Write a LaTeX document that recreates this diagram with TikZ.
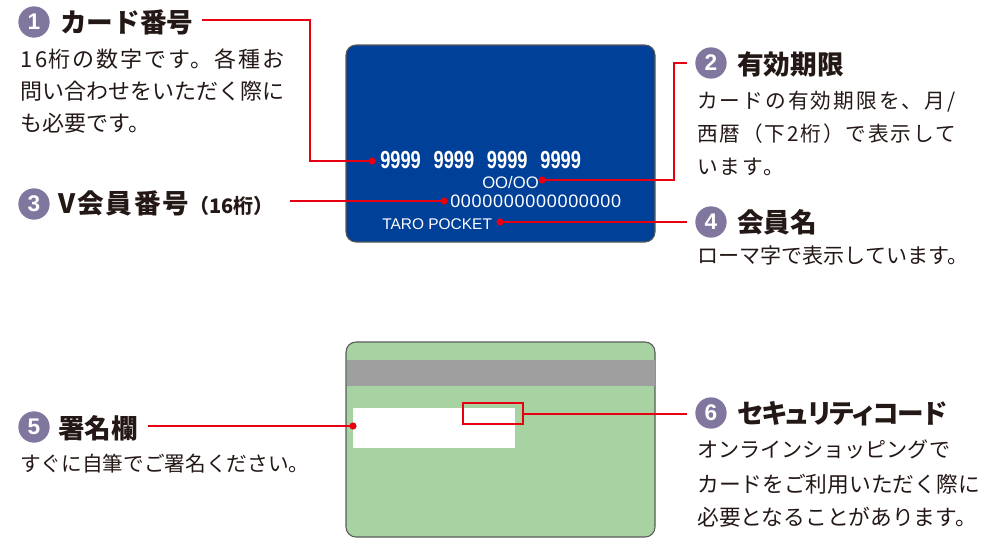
\documentclass[tikz,border=0pt]{standalone}
\usepackage{fontspec}
\newfontfamily\jp{Noto Sans CJK JP}
\newfontfamily\cardfont{Liberation Sans}
\definecolor{cardblue}{RGB}{0,64,152}
\definecolor{cardgreen}{RGB}{166,211,161}
\definecolor{stripe}{RGB}{158,159,158}
\definecolor{myred}{RGB}{230,0,18}
\definecolor{circ}{RGB}{128,118,158}
\definecolor{ink}{RGB}{35,24,21}
\definecolor{edge}{RGB}{90,90,90}
\tikzset{
  numc/.style={circle, fill=circ, minimum size=23.5pt, inner sep=0pt, text=white, font=\cardfont\bfseries\fontsize{17}{17}\selectfont},
  hd/.style={anchor=base west, inner sep=0pt, text=ink, font=\jp\bfseries\fontsize{20}{24}\selectfont},
  bodyL/.style={anchor=base west, inner sep=0pt, text=ink, font=\jp\fontsize{16.5}{20}\selectfont},
  bodyR/.style={anchor=base west, inner sep=0pt, text=ink, font=\jp\fontsize{15.8}{20}\selectfont},
  cardtxt/.style={anchor=base west, inner sep=0pt, text=white},
  redline/.style={draw=myred, line width=1.5pt},
  dot/.style={fill=myred},
  card/.style={draw=edge, line width=0.8pt, rounded corners=7.5pt}
}
\begin{document}
\begin{tikzpicture}[x=0.75pt,y=-0.75pt]
\useasboundingbox (0,0) rectangle (1007,551);

% ---- front card ----
\draw[card, fill=cardblue] (346,45) rectangle (655,242);
\node[cardtxt, font=\cardfont\bfseries\fontsize{18.5}{20}\selectfont] (num) at (380,168)
  {\scalebox{0.74}[1]{9999\hspace{0.7em}9999\hspace{0.7em}9999\hspace{0.7em}9999}};
\node[cardtxt, font=\cardfont\fontsize{12.5}{15}\selectfont] (exp) at (482,188) {OO/OO};
\node[cardtxt, font=\cardfont\fontsize{13.5}{15}\selectfont\addfontfeature{LetterSpace=4}] (vno) at (450,207) {0000000000000000};
\node[cardtxt, font=\cardfont\fontsize{11.6}{14}\selectfont] (name) at (382,229) {TARO POCKET};

% ---- back card ----
\draw[card, fill=cardgreen] (346,342) rectangle (655,537);
\fill[stripe] (346.5,360) rectangle (654.5,386);
\fill[white] (353,408) rectangle (515,448);
\node[draw=myred, line width=1.5pt, minimum width=45pt, minimum height=15.75pt, inner sep=0pt, anchor=north west] (sc) at (462,402) {};

% ---- dots and coordinates ----
\coordinate (d1) at (372,161);
\coordinate (d2) at (542,180);
\coordinate (d3) at (444,201);
\coordinate (d4) at (500,222);
\coordinate (d5) at (353,426);
\coordinate (l1c) at (310,20);
\coordinate (l1a) at (202,20);
\coordinate (l2c) at (674,63);
\coordinate (l2a) at (687,63);
\coordinate (l3a) at (290,201);
\coordinate (l4a) at (687,222);
\coordinate (l5a) at (148,426);
\coordinate (l6a) at (687,414);

\draw[redline] (d1) -| (l1c) -- (l1a);
\draw[redline] (d2) -| (l2c) -- (l2a);
\draw[redline] (d3) -- (l3a);
\draw[redline] (d4) -- (l4a);
\draw[redline] (d5) -- (l5a);
\draw[redline] (sc.east) -- (l6a |- sc.east);
\foreach \d in {d1,d2,d3,d4,d5} \fill[dot] (\d) circle[radius=2.7pt];

% ---- 1 ----
\node[numc] (c1) at (34,22) {1};
\node[hd] (h1) at (60,32) {カード番号};
\node[bodyL, font=\jp\fontsize{16.5}{20}\selectfont\addfontfeature{LetterSpace=9}] (b1a) at (20,67) {1\kern2pt 6\kern1pt 桁の数字です。各種お};
\node[bodyL] (b1b) at (20,99) {問い合わせをいただく際に};
\node[bodyL] (b1c) at (20,131) {も必要です。};

% ---- 3 ----
\node[numc] (c3) at (34,204) {3};
\node[hd, font=\jp\bfseries\fontsize{20}{24}\selectfont\addfontfeature{LetterSpace=7}] (h3) at (58,213) {V会員番号{\addfontfeature{LetterSpace=0}\fontsize{15}{16}\selectfont（16桁）}};

% ---- 2 ----
\node[numc] (c2) at (711,63) {2};
\node[hd] (h2) at (737,74) {有効期限};
\node[bodyR, font=\jp\fontsize{15.5}{20}\selectfont\addfontfeature{LetterSpace=10}] (b2a) at (697,108) {カードの有効期限を、月/};
\node[bodyR, font=\jp\fontsize{15.5}{20}\selectfont\addfontfeature{LetterSpace=9}] (b2b) at (697,141) {西暦（下2桁）で表示して};
\node[bodyR, font=\jp\fontsize{15.5}{20}\selectfont\addfontfeature{LetterSpace=10}] (b2c) at (697,174) {います。};

% ---- 4 ----
\node[numc] (c4) at (711,222) {4};
\node[hd] (h4) at (737,232) {会員名};
\node[bodyR] (b4) at (697,263) {ローマ字で表示しています。};

% ---- 5 ----
\node[numc] (c5) at (34,427) {5};
\node[hd] (h5) at (58,438) {署名欄};
\node[bodyR, font=\jp\fontsize{15.5}{20}\selectfont] (b5) at (20,471) {すぐに自筆でご署名ください。};

% ---- 6 ----
\node[numc] (c6) at (711,413) {6};
\node[hd, font=\jp\bfseries\fontsize{20}{24}\selectfont\addfontfeature{RawFeature=+palt}\addfontfeature{LetterSpace=-3}] (h6) at (737,423) {セキュリティコード};
\node[bodyR] (b6a) at (697,457) {オンラインショッピングで};
\node[bodyR, font=\jp\fontsize{16.3}{20}\selectfont] (b6b) at (697,492) {カードをご利用いただく際に};
\node[bodyR, font=\jp\fontsize{16.3}{20}\selectfont] (b6c) at (697,525) {必要となることがあります。};
\end{tikzpicture}
\end{document}
